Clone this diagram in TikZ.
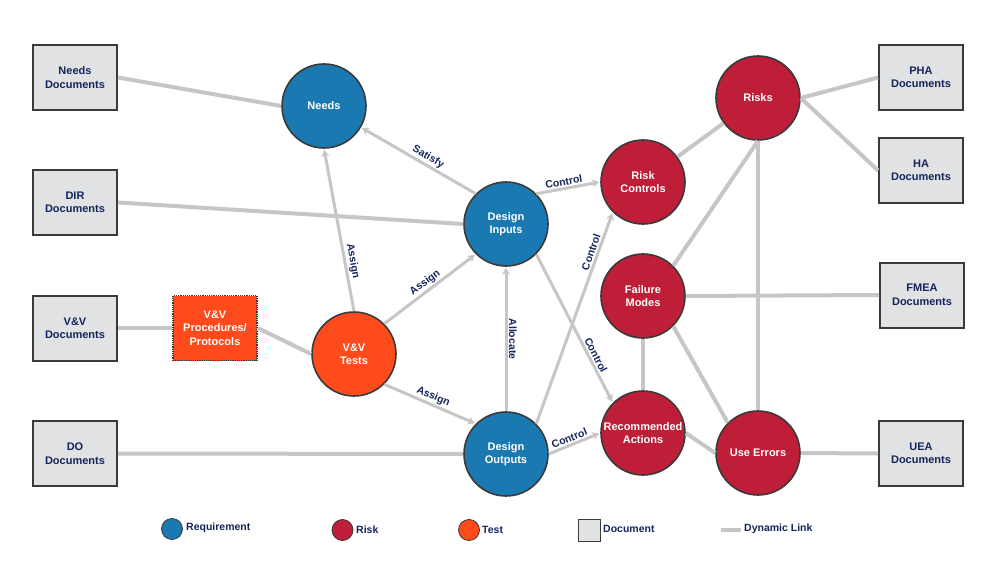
\documentclass[tikz,border=0pt]{standalone}
\usepackage{fontspec}
\setmainfont{Liberation Sans}
\usetikzlibrary{arrows.meta}

\definecolor{reqblue}{HTML}{1B79B1}
\definecolor{riskred}{HTML}{BE1E37}
\definecolor{testorange}{HTML}{FF4A1C}
\definecolor{docgray}{HTML}{E1E2E4}
\definecolor{rimgray}{HTML}{3A3A3A}
\definecolor{linkgray}{HTML}{C6C6C6}
\definecolor{labelnavy}{HTML}{14245C}

\begin{document}
\begin{tikzpicture}[x=1pt,y=-1pt,
    circ/.style={circle,draw=rimgray,line width=1.6pt,minimum size=84pt,inner sep=0pt,
                 align=center,text=white,font=\fontsize{11}{13.5}\selectfont\bfseries},
    doc/.style={rectangle,draw=rimgray,fill=docgray,line width=2pt,minimum width=84pt,
                minimum height=65pt,align=center,text=labelnavy,font=\fontsize{11}{13.5}\selectfont\bfseries},
    lab/.style={sloped,above,inner sep=1.5pt,text=labelnavy,font=\fontsize{10.5}{12}\selectfont\bfseries},
    legtext/.style={anchor=west,inner sep=0pt,text=labelnavy,font=\fontsize{10.5}{12}\selectfont\bfseries}]
    \useasboundingbox (0,0) rectangle (1000,561);

    % documents
    \begin{scope}[every node/.style={doc}]
        \node (needsdoc) at (75,77.5) {Needs\\Documents};
        \node (dirdoc) at (75,202.5) {DIR\\Documents};
        \node (vvdoc) at (75,328) {V\&V\\Documents};
        \node (dodoc) at (75,453.5) {DO\\Documents};
        \node (phadoc) at (921,77.5) {PHA\\Documents};
        \node (hadoc) at (921,170.5) {HA\\Documents};
        \node (fmeadoc) at (922,295) {FMEA\\Documents};
        \node (ueadoc) at (921,453.5) {UEA\\Documents};
    \end{scope}

    % requirements, tests and risks
    \begin{scope}[every node/.style={circ}]
        \node[fill=reqblue] (needs) at (324,106) {Needs};
        \node[fill=reqblue] (dinputs) at (506,224) {Design\\Inputs};
        \node[fill=reqblue] (doutputs) at (506,454) {Design\\Outputs};
        \node[fill=testorange] (vvtests) at (354,354) {V\&V\\Tests};
        \node[fill=riskred] (riskctl) at (643,182) {Risk\\Controls};
        \node[fill=riskred] (failmodes) at (643,296) {Failure\\Modes};
        \node[fill=riskred] (recact) at (643,433) {Recommended\\Actions};
        \node[fill=riskred] (risks) at (758,98) {Risks};
        \node[fill=riskred] (useerr) at (758,453) {Use Errors};
    \end{scope}

    \node[rectangle,fill=testorange,draw=rimgray,densely dotted,line width=1.2pt,
          minimum width=84pt,minimum height=65pt,align=center,text=white,
          font=\fontsize{11}{13.5}\selectfont\bfseries] (vvproc) at (215,328) {V\&V\\Procedures/\\Protocols};

    % dynamic links
    \begin{scope}[every edge/.style={draw=linkgray,line width=4pt}]
        \path [-] (needsdoc.east) edge (needs.west);
        \path [-] (dirdoc.east) edge (dinputs.west);
        \path [-] (vvdoc.east) edge (vvproc.west);
        \path [-] (vvproc.east) edge (vvtests.west);
        \path [-] (dodoc.east) edge (doutputs.west);
        \path [-] (riskctl) edge (risks);
        \path [-] (risks.east) edge (phadoc.west);
        \path [-] (risks.east) edge (hadoc.west);
        \path [-] (failmodes.45) edge (risks.south);
        \path [-] (risks.south) edge (useerr.north);
        \path [-] (failmodes.east) edge (fmeadoc.west);
        \path [-] (failmodes.-45) edge (useerr.135);
        \path [-] (recact.east) edge (useerr.west);
        \path [-] (useerr.east) edge (ueadoc.west);
        \path [-,line width=5pt] (failmodes.south) edge (recact.north);
    \end{scope}

    % directed links
    \begin{scope}[>={Stealth[length=7pt,width=8pt,inset=2pt]},
                  every edge/.style={draw=linkgray,line width=3pt,shorten >=1pt}]
        \path [->] (dinputs.135) edge node[lab,pos=0.45] {Satisfy} (needs.-30);
        \path [->] (vvtests.north) edge node[lab,pos=0.3] {Assign} (needs.south);
        \path [->] (vvtests.45) edge node[lab] {Assign} (dinputs.225);
        \path [->] (vvtests.-45) edge node[lab] {Assign} (doutputs.135);
        \path [->] (doutputs.north) edge node[lab,rotate=180,pos=0.5] {Allocate} (dinputs.south);
        \path [->] (dinputs.45) edge node[lab,pos=0.45] {Control} (riskctl.west);
        \path [->] (doutputs.45) edge node[lab,pos=0.8] {Control} (riskctl.225);
        \path [->] (dinputs.-45) edge node[lab,pos=0.7] {Control} (recact.135);
        \path [->] (doutputs.east) edge node[lab,pos=0.45] {Control} (recact.west);
    \end{scope}

    % legend
    \node[circle,fill=reqblue,draw=rimgray,line width=0.8pt,minimum size=21pt,inner sep=0pt] (legreq) at (172,529) {};
    \node[legtext] (legreqtext) at (186,528) {Requirement};
    \node[circle,fill=riskred,draw=rimgray,line width=0.8pt,minimum size=21pt,inner sep=0pt] (legrisk) at (342.5,530) {};
    \node[legtext] (legrisktext) at (356,530) {Risk};
    \node[circle,fill=testorange,draw=rimgray,line width=0.8pt,minimum size=21pt,inner sep=0pt] (legtest) at (469,530) {};
    \node[legtext] (legtesttext) at (482,530) {Test};
    \node[rectangle,fill=docgray,draw=rimgray,line width=0.8pt,minimum size=22pt,inner sep=0pt] (legdoc) at (589,530) {};
    \node[legtext] (legdoctext) at (603,529) {Document};
    \coordinate (leglinka) at (721,530);
    \coordinate (leglinkb) at (741,530);
    \draw[linkgray,line width=4pt] (leglinka) -- (leglinkb);
    \node[legtext] (leglinktext) at (744,529) {Dynamic Link};
\end{tikzpicture}
\end{document}
